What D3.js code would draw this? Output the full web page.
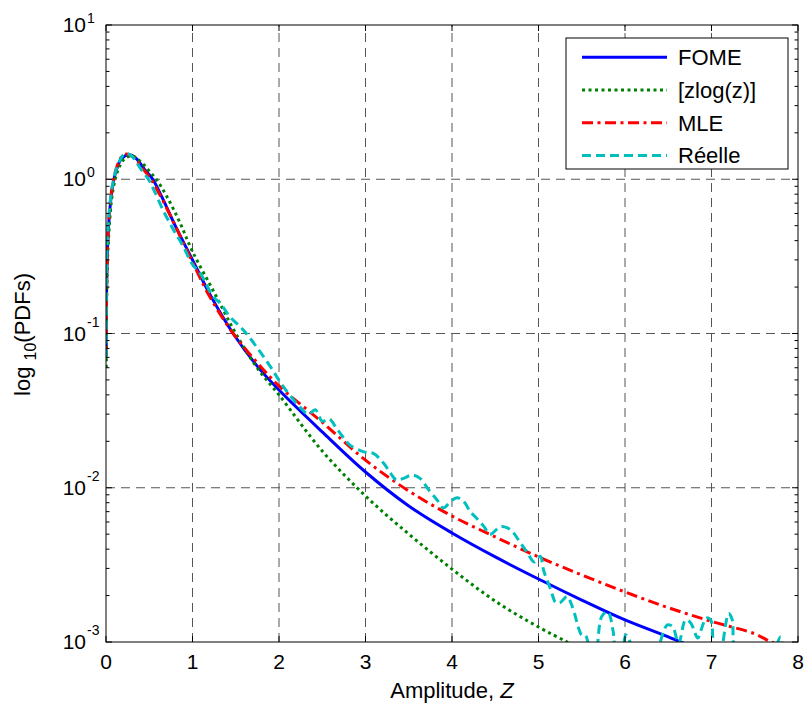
<!DOCTYPE html>
<html>
<head>
<meta charset="utf-8">
<script src="https://cdn.jsdelivr.net/npm/d3@7/dist/d3.min.js"></script>
<style>
  body { margin: 0; background: #fff; }
  svg { font-family: Arial, "Liberation Sans", sans-serif; }
</style>
</head>
<body>
<svg id="chart" width="808" height="713"></svg>
<script>
// values
const zFome = [0.003, 0.01, 0.03, 0.07, 0.12, 0.18, 0.27, 0.35, 0.45, 0.54, 0.65, 0.8, 1.0, 1.2, 1.47, 1.75, 2.0, 2.5, 3.0, 3.5, 4.0, 4.5, 5.0, 5.5, 6.0, 6.5, 6.64, 6.8];
const pFome = [0.07, 0.25, 0.5, 0.85, 1.15, 1.36, 1.44, 1.36, 1.15, 1.0, 0.76, 0.5, 0.3, 0.18, 0.1, 0.0612, 0.043, 0.023, 0.01265, 0.00762, 0.00509, 0.00356, 0.00256, 0.00187, 0.00139, 0.00108, 0.001, 0.00093];

const zZlog = [0.003, 0.01, 0.03, 0.08, 0.14, 0.21, 0.3, 0.4, 0.5, 0.58, 0.7, 0.85, 1.0, 1.25, 1.5, 1.75, 2.0, 2.5, 3.0, 3.5, 4.0, 4.5, 5.0, 5.33, 5.5];
const pZlog = [0.06, 0.2, 0.42, 0.85, 1.15, 1.35, 1.42, 1.3, 1.13, 1.0, 0.78, 0.53, 0.34, 0.185, 0.1, 0.0596, 0.04, 0.0173, 0.00885, 0.00501, 0.00297, 0.00184, 0.00125, 0.001, 0.00088];

const zMle = [0.003, 0.01, 0.03, 0.07, 0.12, 0.18, 0.24, 0.32, 0.42, 0.53, 0.65, 0.8, 1.0, 1.2, 1.47, 1.75, 2.0, 2.5, 3.0, 3.5, 4.0, 4.5, 5.0, 5.5, 6.0, 6.5, 7.0, 7.5, 7.69, 7.8];
const pMle = [0.07, 0.25, 0.52, 0.88, 1.18, 1.4, 1.46, 1.38, 1.18, 0.98, 0.74, 0.5, 0.29, 0.173, 0.1, 0.0645, 0.0457, 0.0266, 0.0151, 0.00953, 0.00656, 0.0048, 0.00356, 0.00272, 0.00211, 0.00167, 0.00136, 0.00113, 0.001, 0.00095];

const zReel = [0.003, 0.008, 0.027, 0.066, 0.104, 0.162, 0.22, 0.3, 0.4, 0.49, 0.55, 0.66, 0.78, 0.89, 1.0, 1.09, 1.24, 1.32, 1.43, 1.59, 1.74, 1.9, 2.03, 2.21, 2.34, 2.42, 2.5, 2.58, 2.66, 2.75, 2.82, 2.98, 3.09, 3.21, 3.29, 3.36, 3.44, 3.54, 3.63, 3.73, 3.83, 3.9, 3.98, 4.06, 4.14, 4.21, 4.29, 4.37, 4.44, 4.56, 4.64, 4.71, 4.79, 4.87, 4.95, 5.02, 5.06, 5.14, 5.2, 5.25, 5.33, 5.39, 5.47, 5.5, 5.54, 5.58, 5.65, 5.73, 5.8, 5.86, 5.88, 5.95, 6.01, 6.07, 6.2, 6.3, 6.4, 6.49, 6.55, 6.62, 6.7, 6.76, 6.84, 6.88, 6.94, 6.99, 7.02, 7.08, 7.13, 7.2, 7.24, 7.26, 7.4, 7.7, 7.76, 7.8, 7.82, 7.9, 8.0];
const pReel = [0.07, 0.3, 0.52, 0.85, 1.09, 1.33, 1.47, 1.41, 1.17, 1.0, 0.86, 0.63, 0.47, 0.37, 0.28, 0.245, 0.173, 0.157, 0.129, 0.105, 0.082, 0.061, 0.047, 0.035, 0.03, 0.032, 0.027, 0.028, 0.0245, 0.021, 0.0189, 0.0171, 0.0167, 0.0144, 0.0124, 0.0112, 0.0115, 0.0121, 0.0115, 0.0097, 0.0083, 0.0074, 0.0081, 0.0086, 0.0081, 0.007, 0.0063, 0.0056, 0.005, 0.0056, 0.0055, 0.0051, 0.0044, 0.0038, 0.0033, 0.0036, 0.0029, 0.0022, 0.0018, 0.0018, 0.00197, 0.0017, 0.0012, 0.00111, 0.00111, 0.00095, 0.0006, 0.00146, 0.00157, 0.0012, 0.00095, 0.0006, 0.00111, 0.00097, 0.0006, 0.0006, 0.00097, 0.00129, 0.00126, 0.00098, 0.00139, 0.00133, 0.00106, 0.0012, 0.00143, 0.00139, 0.00095, 0.0006, 0.00097, 0.00153, 0.00139, 0.00095, 0.0006, 0.0006, 0.00097, 0.00108, 0.00095, 0.0006, 0.0006];

const seriesNames = ["FOME", "[zlog(z)]", "MLE", "Réelle"];
const xTicks = [0, 1, 2, 3, 4, 5, 6, 7, 8];
const yTicks = [1e-3, 1e-2, 1e-1, 1, 10];
const yExponents = ["-3", "-2", "-1", "0", "1"];

const plotL = 106, plotR = 798, plotT = 25, plotB = 642;

const svg = d3.select("#chart");

const x = d3.scaleLinear().domain([0, 8]).range([plotL, plotR]);
const y = d3.scaleLog().domain([1e-3, 10]).range([plotB, plotT]);

svg.append("defs").append("clipPath").attr("id", "plotclip")
  .append("rect")
  .attr("x", plotL).attr("y", plotT)
  .attr("width", plotR - plotL).attr("height", plotB - plotT);

// grid
const grid = svg.append("g")
  .attr("stroke", "#555")
  .attr("stroke-width", 1)
  .attr("stroke-dasharray", "9,6");

grid.selectAll("line.gx")
  .data(xTicks.slice(1, -1))
  .join("line")
  .attr("class", "gx")
  .attr("x1", (d) => x(d)).attr("x2", (d) => x(d))
  .attr("y1", plotB).attr("y2", plotT);

grid.selectAll("line.gy")
  .data(yTicks.slice(1, -1))
  .join("line")
  .attr("class", "gy")
  .attr("y1", (d) => y(d)).attr("y2", (d) => y(d))
  .attr("x1", plotL).attr("x2", plotR);

// curves
const series = [
  { name: seriesNames[0], z: zFome, p: pFome, color: "#0000ff", dash: null },
  { name: seriesNames[1], z: zZlog, p: pZlog, color: "#008000", dash: "3,3.5" },
  { name: seriesNames[2], z: zMle, p: pMle, color: "#ff0000", dash: "11,4.5,3,4.5" },
  { name: seriesNames[3], z: zReel, p: pReel, color: "#00bfbf", dash: "9,5" },
];

const line = d3.line()
  .x((d) => x(d[0]))
  .y((d) => y(d[1]))
  .curve(d3.curveCatmullRom.alpha(0.5));

svg.append("g")
  .attr("clip-path", "url(#plotclip)")
  .selectAll("path")
  .data(series)
  .join("path")
  .attr("d", (s) => line(d3.zip(s.z, s.p)))
  .attr("fill", "none")
  .attr("stroke", (s) => s.color)
  .attr("stroke-width", 3)
  .attr("stroke-dasharray", (s) => s.dash);

// axes frame + ticks
const axes = svg.append("g").attr("stroke", "#000").attr("stroke-width", 1);

axes.append("rect")
  .attr("x", plotL).attr("y", plotT)
  .attr("width", plotR - plotL).attr("height", plotB - plotT)
  .attr("fill", "none");

xTicks.forEach((t) => {
  axes.append("line").attr("x1", x(t)).attr("x2", x(t)).attr("y1", plotB).attr("y2", plotB - 6);
  axes.append("line").attr("x1", x(t)).attr("x2", x(t)).attr("y1", plotT).attr("y2", plotT + 6);
});

const minor = [];
for (let e = -3; e < 1; e++) {
  for (let m = 2; m <= 9; m++) minor.push(m * Math.pow(10, e));
}
minor.forEach((v) => {
  axes.append("line").attr("x1", plotL).attr("x2", plotL + 3.5).attr("y1", y(v)).attr("y2", y(v));
  axes.append("line").attr("x1", plotR).attr("x2", plotR - 3.5).attr("y1", y(v)).attr("y2", y(v));
});
yTicks.forEach((v) => {
  axes.append("line").attr("x1", plotL).attr("x2", plotL + 6).attr("y1", y(v)).attr("y2", y(v));
  axes.append("line").attr("x1", plotR).attr("x2", plotR - 6).attr("y1", y(v)).attr("y2", y(v));
});

// tick labels
svg.selectAll("text.xt")
  .data(xTicks)
  .join("text")
  .attr("class", "xt")
  .attr("x", (d) => x(d))
  .attr("y", 669)
  .attr("text-anchor", "middle")
  .attr("font-size", 21)
  .text((d) => d);

yTicks.forEach((v, i) => {
  const ty = y(v);
  const ex = yExponents[i];
  svg.append("text")
    .attr("x", 86).attr("y", ty + 7)
    .attr("text-anchor", "end")
    .attr("font-size", 21)
    .text("10");
  svg.append("text")
    .attr("x", 87).attr("y", ex.startsWith("-") ? ty - 7 : ty - 2)
    .attr("font-size", 14)
    .text(ex);
});

// axis labels
const xl = svg.append("text")
  .attr("x", (plotL + plotR) / 2)
  .attr("y", 698)
  .attr("text-anchor", "middle")
  .attr("font-size", 22);
xl.append("tspan").text("Amplitude, ");
xl.append("tspan").attr("font-style", "italic").text("Z");

const yl = svg.append("text")
  .attr("transform", `translate(30,${(plotT + plotB) / 2 + 1}) rotate(-90)`)
  .attr("text-anchor", "middle")
  .attr("font-size", 22);
yl.append("tspan").text("log ");
yl.append("tspan").attr("font-size", 16).attr("dy", 6).text("10");
yl.append("tspan").attr("dy", -6).text("(PDFs)");

// legend
const lg = svg.append("g");
lg.append("rect")
  .attr("x", 566).attr("y", 38)
  .attr("width", 222).attr("height", 131)
  .attr("fill", "#fff")
  .attr("stroke", "#000")
  .attr("stroke-width", 1);

series.forEach((s, i) => {
  const ly = 57.3 + i * 32.7;
  lg.append("line")
    .attr("x1", 582).attr("x2", 667)
    .attr("y1", ly).attr("y2", ly)
    .attr("stroke", s.color)
    .attr("stroke-width", 3)
    .attr("stroke-dasharray", s.dash);
  lg.append("text")
    .attr("x", 678).attr("y", ly + 8)
    .attr("font-size", 22)
    .text(s.name);
});
</script>
</body>
</html>
